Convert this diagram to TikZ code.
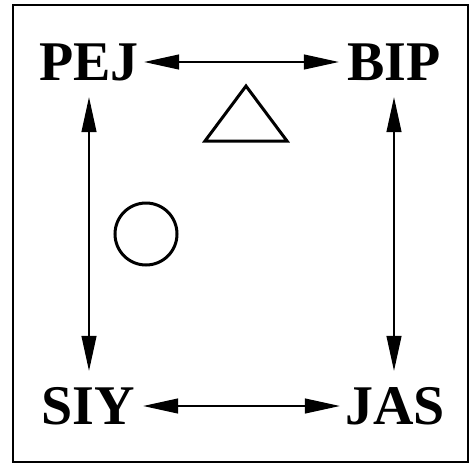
\documentclass[tikz,border=0pt]{standalone}
\usepackage{fontspec}
\setmainfont{Liberation Serif}
\usetikzlibrary{arrows.meta}
\begin{document}
\begin{tikzpicture}[x=1pt,y=-1pt,
  lbl/.style={inner sep=0pt, minimum width=110pt, minimum height=70pt,
    font=\fontsize{56}{60}\selectfont\bfseries, text height=37pt, text depth=0pt},
  link/.style={line width=1.2pt, {Triangle[length=35pt,width=15pt]}-{Triangle[length=35pt,width=15pt]}},
  shapeline/.style={line width=3pt}]
\useasboundingbox (0,0) rectangle (471,464);
\draw[line width=2pt] (13,5) rectangle (468,462);
\node[lbl] (PEJ) at (89,62) {PEJ};
\node[lbl] (BIP) at (394,62) {BIP};
\node[lbl] (SIY) at (88,406) {SIY};
\node[lbl] (JAS) at (395,406) {JAS};
\draw[link] (PEJ.east) -- (BIP.west |- PEJ.east);
\draw[link] (SIY.east) -- (JAS.west |- SIY.east);
\draw[link] (PEJ.south) -- (PEJ.south |- SIY.north);
\draw[link] (BIP.south) -- (BIP.south |- JAS.north);
\draw[shapeline, line join=miter] (246,86) -- (287,141) -- (205,141) -- cycle;
\draw[shapeline] (146,234) circle (31);
\end{tikzpicture}
\end{document}
